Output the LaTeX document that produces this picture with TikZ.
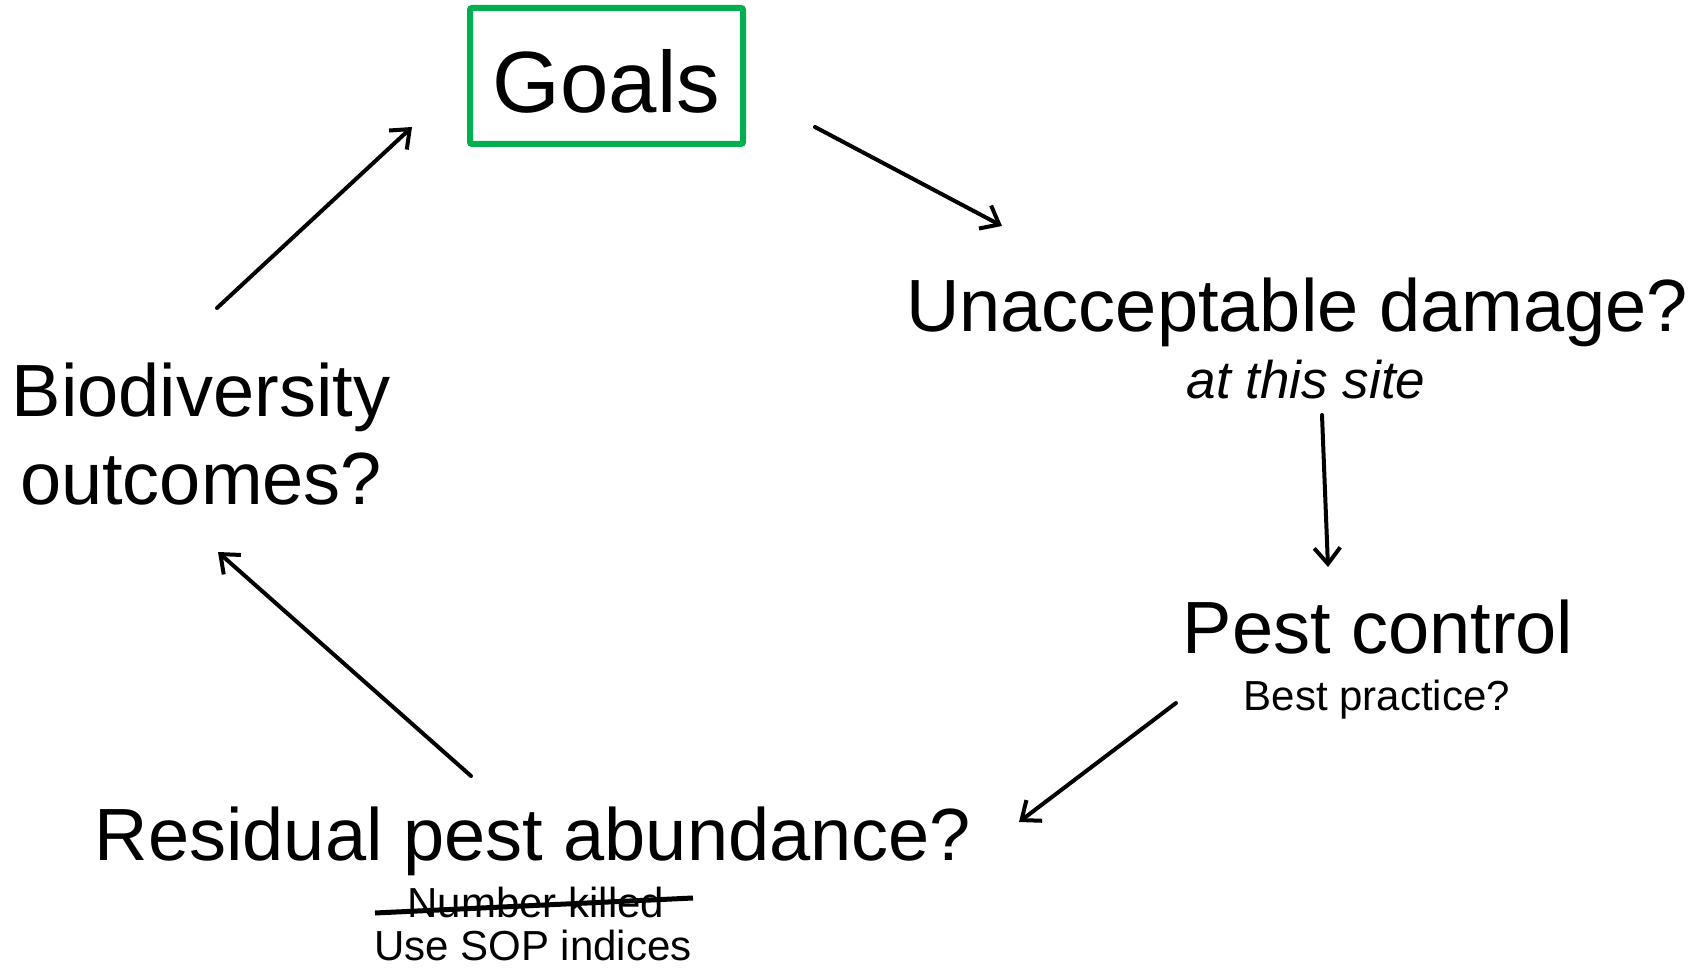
\documentclass[tikz,border=0pt]{standalone}
\usepackage{fontspec}
\setmainfont{Liberation Sans}
\usetikzlibrary{arrows.meta}
\definecolor{goalgreen}{HTML}{00B050}
\begin{document}
\begin{tikzpicture}[x=1pt,y=-1pt,
  big/.style={font=\fontsize{74}{87}\selectfont, inner sep=0pt, anchor=base},
  small/.style={font=\fontsize{42}{50}\selectfont, inner sep=0pt, anchor=base},
  flow/.style={line width=4pt, line cap=round, -{Straight Barb[length=16pt,width=26pt]}}]
\useasboundingbox (0,0) rectangle (1706,973);
% nodes
\node[draw=goalgreen, line width=6pt, rounded corners=2pt, minimum width=273pt, minimum height=136pt,
      text height=74pt, text depth=0pt, inner sep=0pt,
      font=\fontsize{87}{100}\selectfont] (goals) at (606.5,76) {Goals};
\node[big] (dmg) at (1297,332) {Unacceptable damage?};
\node[font=\fontsize{53}{60}\selectfont\itshape, inner sep=0pt, anchor=base] (site) at (1306,399) {at this site};
\node[big] (pest) at (1378,653) {Pest control};
\node[small] (best) at (1377,710) {Best practice?};
\node[big] (resid) at (533,860) {Residual pest abundance?};
\node[small] (killed) at (536,917) {Number killed};
\node[small] (sop) at (533,960) {Use SOP indices};
\node[big] (bio) at (201,417) {Biodiversity};
\node[big] (bioB) at (201,504) {outcomes?};
% strike-through
\coordinate (ks) at (375,913);
\coordinate (ke) at (693,898);
\draw[line width=5pt] (ks) -- (ke);
% connector ends
\coordinate (bio-out) at (217,308);
\coordinate (goals-in) at (412,127);
\coordinate (goals-out) at (815,127);
\coordinate (dmg-in) at (1002,226);
\coordinate (site-out) at (1322,415);
\coordinate (pest-in) at (1328,567);
\coordinate (best-out) at (1176,703);
\coordinate (resid-in) at (1019,822);
\coordinate (resid-out) at (471,776);
\coordinate (bio-in) at (218,552);
\draw[flow] (bio-out) -- (goals-in);
\draw[flow] (goals-out) -- (dmg-in);
\draw[flow] (site-out) -- (pest-in);
\draw[flow] (best-out) -- (resid-in);
\draw[flow] (resid-out) -- (bio-in);
\end{tikzpicture}
\end{document}
